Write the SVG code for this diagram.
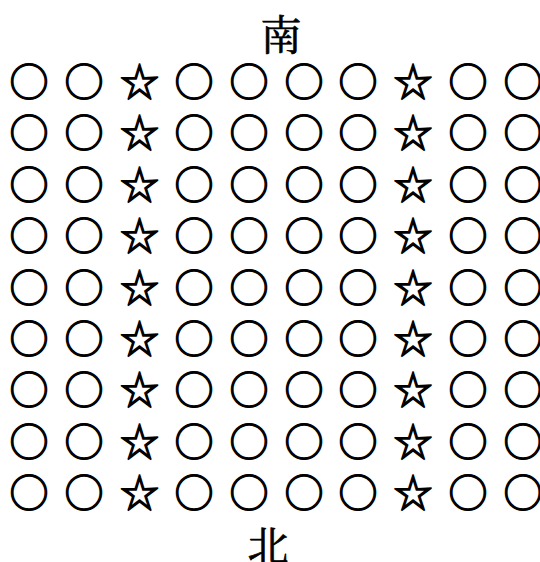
<svg xmlns="http://www.w3.org/2000/svg" width="540" height="562" viewBox="0 0 540 562">
<defs>
<style>
text{font-family:"Noto Sans CJK SC","Noto Sans",sans-serif;fill:#000;text-anchor:middle;dominant-baseline:central}
.s{font-size:39px;stroke:#000;stroke-width:1.3}
.l{font-size:41px;font-family:"Noto Serif CJK SC","Noto Sans CJK SC",serif;stroke:#000;stroke-width:0.7}
</style>
</defs>
<rect width="540" height="562" fill="#fff"/>
<g id="south"><text class="l" x="281" y="32">南</text></g>
<g id="north"><text class="l" x="268" y="543">北</text></g>
<g id="grid">
<g id="r1" transform="translate(0,79)"><text class="s" x="29" y="0">○</text><text class="s" x="84" y="0">○</text><text class="s" x="139.5" y="0">☆</text><text class="s" x="194" y="0">○</text><text class="s" x="249" y="0">○</text><text class="s" x="304" y="0">○</text><text class="s" x="358" y="0">○</text><text class="s" x="413" y="0">☆</text><text class="s" x="468" y="0">○</text><text class="s" x="523" y="0">○</text></g>
<g id="r2" transform="translate(0,130.4)"><text class="s" x="29" y="0">○</text><text class="s" x="84" y="0">○</text><text class="s" x="139.5" y="0">☆</text><text class="s" x="194" y="0">○</text><text class="s" x="249" y="0">○</text><text class="s" x="304" y="0">○</text><text class="s" x="358" y="0">○</text><text class="s" x="413" y="0">☆</text><text class="s" x="468" y="0">○</text><text class="s" x="523" y="0">○</text></g>
<g id="r3" transform="translate(0,181.8)"><text class="s" x="29" y="0">○</text><text class="s" x="84" y="0">○</text><text class="s" x="139.5" y="0">☆</text><text class="s" x="194" y="0">○</text><text class="s" x="249" y="0">○</text><text class="s" x="304" y="0">○</text><text class="s" x="358" y="0">○</text><text class="s" x="413" y="0">☆</text><text class="s" x="468" y="0">○</text><text class="s" x="523" y="0">○</text></g>
<g id="r4" transform="translate(0,233.2)"><text class="s" x="29" y="0">○</text><text class="s" x="84" y="0">○</text><text class="s" x="139.5" y="0">☆</text><text class="s" x="194" y="0">○</text><text class="s" x="249" y="0">○</text><text class="s" x="304" y="0">○</text><text class="s" x="358" y="0">○</text><text class="s" x="413" y="0">☆</text><text class="s" x="468" y="0">○</text><text class="s" x="523" y="0">○</text></g>
<g id="r5" transform="translate(0,284.6)"><text class="s" x="29" y="0">○</text><text class="s" x="84" y="0">○</text><text class="s" x="139.5" y="0">☆</text><text class="s" x="194" y="0">○</text><text class="s" x="249" y="0">○</text><text class="s" x="304" y="0">○</text><text class="s" x="358" y="0">○</text><text class="s" x="413" y="0">☆</text><text class="s" x="468" y="0">○</text><text class="s" x="523" y="0">○</text></g>
<g id="r6" transform="translate(0,336)"><text class="s" x="29" y="0">○</text><text class="s" x="84" y="0">○</text><text class="s" x="139.5" y="0">☆</text><text class="s" x="194" y="0">○</text><text class="s" x="249" y="0">○</text><text class="s" x="304" y="0">○</text><text class="s" x="358" y="0">○</text><text class="s" x="413" y="0">☆</text><text class="s" x="468" y="0">○</text><text class="s" x="523" y="0">○</text></g>
<g id="r7" transform="translate(0,387.4)"><text class="s" x="29" y="0">○</text><text class="s" x="84" y="0">○</text><text class="s" x="139.5" y="0">☆</text><text class="s" x="194" y="0">○</text><text class="s" x="249" y="0">○</text><text class="s" x="304" y="0">○</text><text class="s" x="358" y="0">○</text><text class="s" x="413" y="0">☆</text><text class="s" x="468" y="0">○</text><text class="s" x="523" y="0">○</text></g>
<g id="r8" transform="translate(0,438.8)"><text class="s" x="29" y="0">○</text><text class="s" x="84" y="0">○</text><text class="s" x="139.5" y="0">☆</text><text class="s" x="194" y="0">○</text><text class="s" x="249" y="0">○</text><text class="s" x="304" y="0">○</text><text class="s" x="358" y="0">○</text><text class="s" x="413" y="0">☆</text><text class="s" x="468" y="0">○</text><text class="s" x="523" y="0">○</text></g>
<g id="r9" transform="translate(0,490.2)"><text class="s" x="29" y="0">○</text><text class="s" x="84" y="0">○</text><text class="s" x="139.5" y="0">☆</text><text class="s" x="194" y="0">○</text><text class="s" x="249" y="0">○</text><text class="s" x="304" y="0">○</text><text class="s" x="358" y="0">○</text><text class="s" x="413" y="0">☆</text><text class="s" x="468" y="0">○</text><text class="s" x="523" y="0">○</text></g>
</g>
</svg>
